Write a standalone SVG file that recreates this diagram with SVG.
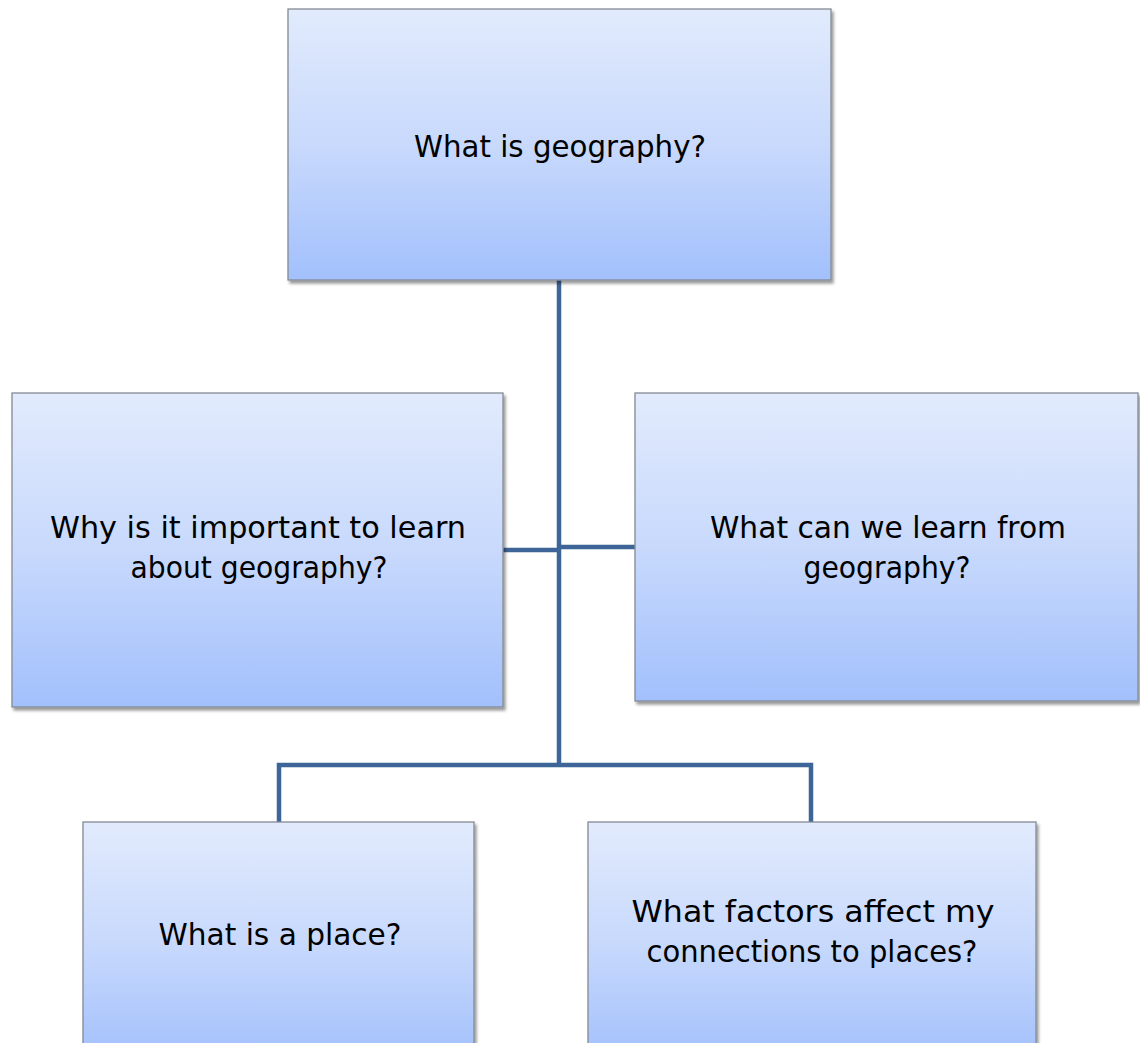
<svg xmlns="http://www.w3.org/2000/svg" width="1140" height="1043" viewBox="0 0 1140 1043">
<defs>
<linearGradient id="g" x1="0" y1="0" x2="0" y2="1">
<stop offset="0" stop-color="#e2ebfd"/>
<stop offset="0.5" stop-color="#c8d9fc"/>
<stop offset="1" stop-color="#a2c0fc"/>
</linearGradient>
<filter id="sh" x="-5%" y="-5%" width="110%" height="110%">
<feDropShadow dx="2" dy="3" stdDeviation="1.5" flood-color="#000" flood-opacity="0.4"/>
</filter>
</defs>
<style>
.box{fill:url(#g);stroke:#858b93;stroke-width:1.3;filter:url(#sh)}
.t{font-family:"Comic Sans MS","DejaVu Sans",sans-serif;font-size:30px;fill:#000;text-anchor:middle}
.c{fill:none;stroke:#3e6597;stroke-width:4.5}
</style>
<g id="connectors">
<line class="c" x1="559" y1="280" x2="559" y2="765"/>
<line class="c" x1="503" y1="550" x2="559" y2="550"/>
<line class="c" x1="559" y1="547" x2="635" y2="547"/>
<polyline class="c" points="279,823 279,765 811,765 811,823"/>
</g>
<g id="n1">
<rect class="box" x="288" y="9" width="543" height="271"/>
<text class="t" x="560" y="157" textLength="292" lengthAdjust="spacingAndGlyphs">What is geography?</text>
</g>
<g id="n2">
<rect class="box" x="12" y="393" width="491" height="314"/>
<text class="t" x="258" y="538" textLength="416" lengthAdjust="spacingAndGlyphs">Why is it important to learn</text>
<text class="t" x="259" y="578" textLength="257" lengthAdjust="spacingAndGlyphs">about geography?</text>
</g>
<g id="n3">
<rect class="box" x="635" y="393" width="503" height="308"/>
<text class="t" x="888" y="538" textLength="356" lengthAdjust="spacingAndGlyphs">What can we learn from</text>
<text class="t" x="887" y="578" textLength="167" lengthAdjust="spacingAndGlyphs">geography?</text>
</g>
<g id="n4">
<rect class="box" x="83" y="822" width="391" height="240"/>
<text class="t" x="280" y="945" textLength="243" lengthAdjust="spacingAndGlyphs">What is a place?</text>
</g>
<g id="n5">
<rect class="box" x="588" y="822" width="448" height="240"/>
<text class="t" x="813" y="922" textLength="363" lengthAdjust="spacingAndGlyphs">What factors affect my</text>
<text class="t" x="812" y="962" textLength="331" lengthAdjust="spacingAndGlyphs">connections to places?</text>
</g>
</svg>
